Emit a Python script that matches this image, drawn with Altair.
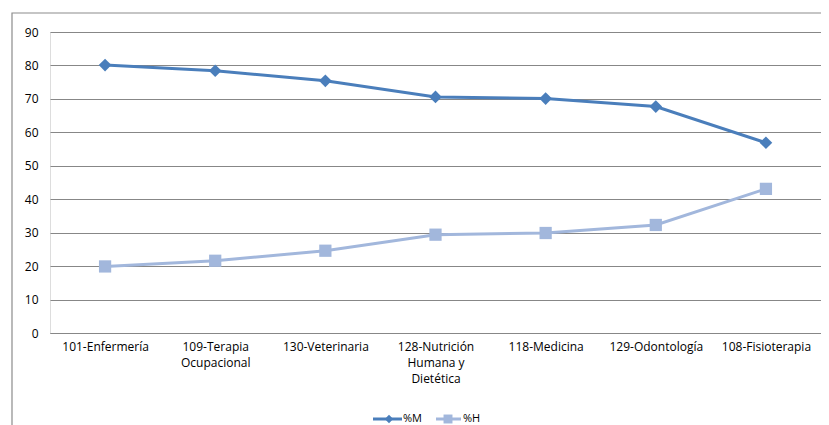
import altair as alt
import pandas as pd

categories = [
    "101-Enfermería",
    "109-Terapia\nOcupacional",
    "130-Veterinaria",
    "128-Nutrición\nHumana y\nDietética",
    "118-Medicina",
    "129-Odontología",
    "108-Fisioterapia",
]
pct_m = [80.1, 78.4, 75.4, 70.6, 70.1, 67.7, 56.9]
pct_h = [19.9, 21.6, 24.6, 29.4, 29.9, 32.3, 43.1]
y_ticks = [0, 10, 20, 30, 40, 50, 60, 70, 80, 90]

C_M = "#4A7EBB"
C_H = "#A2B7DC"
FONT = "Open Sans"

df_m = pd.DataFrame({"cat": categories, "val": pct_m})
df_h = pd.DataFrame({"cat": categories, "val": pct_h})

W, H = 771, 301

x_enc = alt.X(
    "cat:N",
    sort=categories,
    title=None,
    scale=alt.Scale(padding=0.5),
    axis=alt.Axis(
        labelAngle=0,
        labelAlign="center",
        labelExpr="split(datum.label, '\\n')",
        labelLineHeight=16,
        labelFont=FONT,
        labelFontSize=12,
        labelColor="#000000",
        labelPadding=8,
        labelBaseline="top",
        ticks=False,
        domain=True,
        domainColor="#878787",
        domainWidth=1.2,
        grid=False,
        labelLimit=200,
        labelOverlap=False,
    ),
)
y_enc = alt.Y(
    "val:Q",
    title=None,
    scale=alt.Scale(domain=[0, 90], nice=False),
    axis=alt.Axis(
        values=y_ticks,
        labelFont=FONT,
        labelFontSize=12,
        labelColor="#000000",
        labelPadding=12,
        labelOverlap=False,
        ticks=False,
        domain=False,
        grid=True,
        gridColor="#878787",
        gridWidth=1.2,
    ),
)

border = alt.Chart(pd.DataFrame({"a": [0]})).mark_rect(
    fill=None, fillOpacity=0, stroke="#8c8c8c", strokeWidth=1.2
).encode(
    x=alt.value(-38), x2=alt.value(830), y=alt.value(-19), y2=alt.value(420)
)

line_m = alt.Chart(df_m).mark_line(color=C_M, strokeWidth=3).encode(x=x_enc, y=y_enc)
pts_m = alt.Chart(df_m).mark_point(
    shape="diamond", filled=True, color=C_M, size=160, opacity=1
).encode(x=x_enc, y=y_enc)
line_h = alt.Chart(df_h).mark_line(color=C_H, strokeWidth=3).encode(x=x_enc, y=y_enc)
pts_h = alt.Chart(df_h).mark_point(
    shape="square", filled=True, color=C_H, size=150, opacity=1
).encode(x=x_enc, y=y_enc)

LY = 387
leg_df = pd.DataFrame({"a": [0]})
leg_line_m = alt.Chart(leg_df).mark_rule(color=C_M, strokeWidth=3).encode(
    x=alt.value(323), x2=alt.value(352), y=alt.value(LY)
)
leg_pt_m = alt.Chart(leg_df).mark_point(
    shape="diamond", filled=True, color=C_M, size=70, opacity=1
).encode(x=alt.value(339), y=alt.value(LY))
leg_txt_m = alt.Chart(leg_df).mark_text(
    text="%M", font=FONT, fontSize=11, align="left", baseline="middle", color="#000"
).encode(x=alt.value(353), y=alt.value(LY))
leg_line_h = alt.Chart(leg_df).mark_rule(color=C_H, strokeWidth=3).encode(
    x=alt.value(386), x2=alt.value(411), y=alt.value(LY)
)
leg_pt_h = alt.Chart(leg_df).mark_point(
    shape="square", filled=True, color=C_H, size=80, opacity=1
).encode(x=alt.value(398), y=alt.value(LY))
leg_txt_h = alt.Chart(leg_df).mark_text(
    text="%H", font=FONT, fontSize=11, align="left", baseline="middle", color="#000"
).encode(x=alt.value(413), y=alt.value(LY))

chart = alt.layer(
    border, line_h, pts_h, line_m, pts_m,
    leg_line_m, leg_pt_m, leg_txt_m, leg_line_h, leg_pt_h, leg_txt_h,
).properties(
    width=W,
    height=H,
    autosize=alt.AutoSizeParams(type="none"),
    padding={"left": 42, "top": 24, "right": 0, "bottom": 92},
).configure_view(stroke=None).configure(background="white")

chart.save("out.html", embed_options={"renderer": "svg", "actions": False})
